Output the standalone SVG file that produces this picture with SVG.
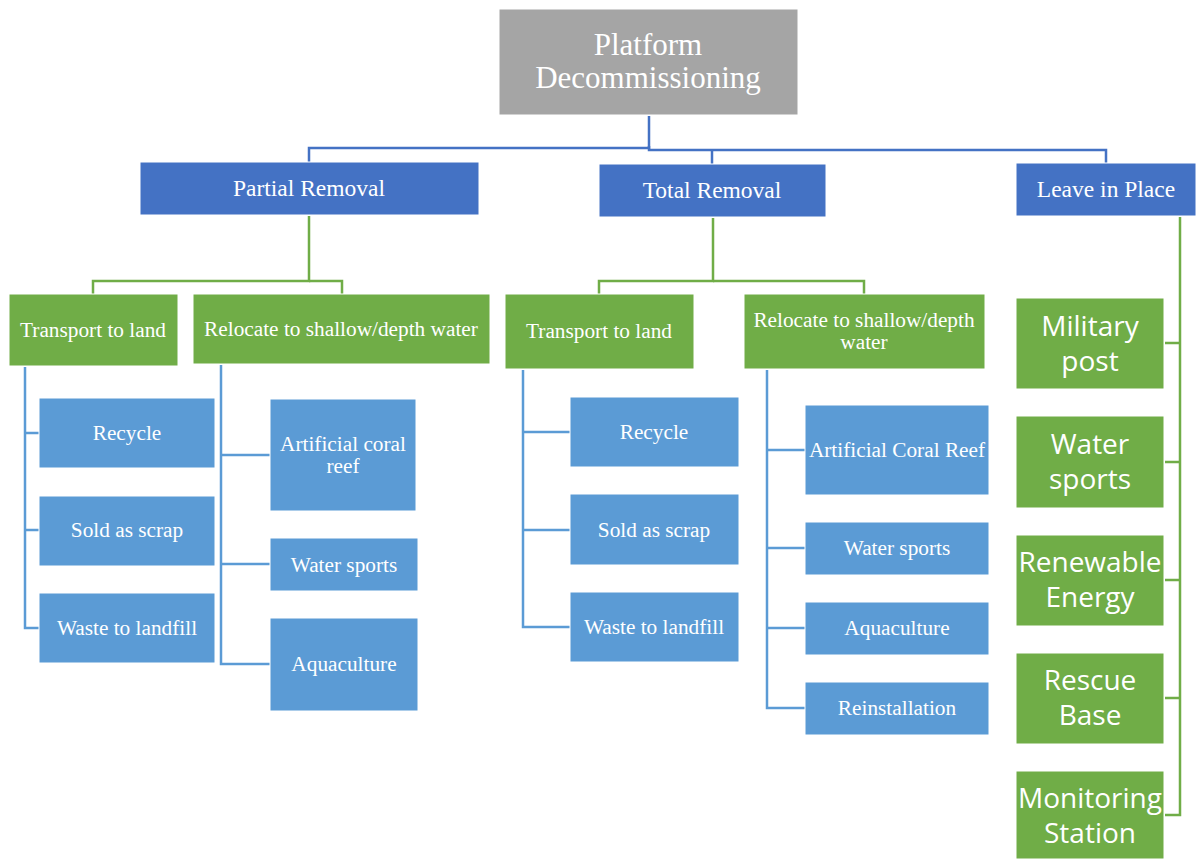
<svg xmlns="http://www.w3.org/2000/svg" width="1201" height="859" viewBox="0 0 1201 859">
  <style>
    .root { fill: #A5A5A5; stroke: #ffffff; stroke-width: 1; }
    .main { fill: #4472C4; stroke: #ffffff; stroke-width: 1; }
    .grn { fill: #70AD47; stroke: #ffffff; stroke-width: 1; }
    .leaf { fill: #5B9BD5; stroke: #ffffff; stroke-width: 1; }
    text { fill: #ffffff; text-anchor: middle; font-family: "Liberation Serif", "Times New Roman", serif; }
    .t-root { font-size: 31px; }
    .t-main { font-size: 23.5px; }
    .t-leaf { font-size: 21.3px; }
    .t-side { font-size: 28px; font-family: "Open Sans", "Noto Sans", sans-serif; }
    .c-blue { fill: none; stroke: #4472C4; stroke-width: 2.5; }
    .c-lblue { fill: none; stroke: #5B9BD5; stroke-width: 2.5; }
    .c-green { fill: none; stroke: #70AD47; stroke-width: 2.5; }
  </style>

  <!-- connectors -->
  <g id="connectors">
    <!-- root to the three strategies -->
    <path class="c-blue" d="M649 116 V148 H309 V162"/>
    <path class="c-blue" d="M649 146 V150 H1106 V163"/>
    <path class="c-blue" d="M712 150 V164"/>
    <!-- partial removal to options -->
    <path class="c-green" d="M309 216 V281 H93 V294"/>
    <path class="c-green" d="M309 281 H342 V294"/>
    <!-- total removal to options -->
    <path class="c-green" d="M713 218 V281 H599 V294"/>
    <path class="c-green" d="M713 281 H864 V294"/>
    <!-- partial: transport to land -->
    <path class="c-lblue" d="M25 367 V628 H39"/>
    <path class="c-lblue" d="M25 433 H39 M25 530 H39"/>
    <!-- partial: relocate -->
    <path class="c-lblue" d="M221 365 V664 H270"/>
    <path class="c-lblue" d="M221 455 H270 M221 564 H270"/>
    <!-- total: transport to land -->
    <path class="c-lblue" d="M523 370 V627 H570"/>
    <path class="c-lblue" d="M523 432 H570 M523 530 H570"/>
    <!-- total: relocate -->
    <path class="c-lblue" d="M767 370 V708 H805"/>
    <path class="c-lblue" d="M767 450 H805 M767 548 H805 M767 628 H805"/>
    <!-- leave in place -->
    <path class="c-green" d="M1180 217 V815 H1165"/>
    <path class="c-green" d="M1165 343 H1180 M1165 462 H1180 M1165 580 H1180 M1165 698 H1180"/>
  </g>

  <g id="root">
    <rect class="root" x="499" y="9" width="299" height="106"/>
    <text class="t-root" x="648" y="55">Platform</text>
    <text class="t-root" x="648" y="88">Decommissioning</text>
  </g>

  <g id="partial-removal">
    <rect class="main" x="140" y="162" width="339" height="53"/>
    <text class="t-main" x="309" y="196">Partial Removal</text>
  </g>
  <g id="total-removal">
    <rect class="main" x="599" y="164" width="227" height="53"/>
    <text class="t-main" x="712" y="198">Total Removal</text>
  </g>
  <g id="leave-in-place">
    <rect class="main" x="1016" y="163" width="180" height="53"/>
    <text class="t-main" x="1106" y="197">Leave in Place</text>
  </g>

  <g id="p-transport">
    <rect class="grn" x="9" y="294" width="169" height="72"/>
    <text class="t-leaf" x="93" y="337">Transport to land</text>
  </g>
  <g id="p-relocate">
    <rect class="grn" x="193" y="294" width="297" height="70"/>
    <text class="t-leaf" x="341" y="336">Relocate to shallow/depth water</text>
  </g>
  <g id="t-transport">
    <rect class="grn" x="505" y="294" width="189" height="75"/>
    <text class="t-leaf" x="599" y="338">Transport to land</text>
  </g>
  <g id="t-relocate">
    <rect class="grn" x="744" y="294" width="241" height="75"/>
    <text class="t-leaf" x="864" y="327">Relocate to shallow/depth</text>
    <text class="t-leaf" x="864" y="349">water</text>
  </g>

  <g id="p-recycle">
    <rect class="leaf" x="39" y="398" width="176" height="70"/>
    <text class="t-leaf" x="127" y="440">Recycle</text>
  </g>
  <g id="p-scrap">
    <rect class="leaf" x="39" y="496" width="176" height="70"/>
    <text class="t-leaf" x="127" y="537">Sold as scrap</text>
  </g>
  <g id="p-landfill">
    <rect class="leaf" x="39" y="593" width="176" height="70"/>
    <text class="t-leaf" x="127" y="635">Waste to landfill</text>
  </g>

  <g id="p-coral">
    <rect class="leaf" x="270" y="399" width="146" height="112"/>
    <text class="t-leaf" x="343" y="451">Artificial coral</text>
    <text class="t-leaf" x="343" y="473">reef</text>
  </g>
  <g id="p-sports">
    <rect class="leaf" x="270" y="538" width="148" height="53"/>
    <text class="t-leaf" x="344" y="572">Water sports</text>
  </g>
  <g id="p-aqua">
    <rect class="leaf" x="270" y="618" width="148" height="93"/>
    <text class="t-leaf" x="344" y="671">Aquaculture</text>
  </g>

  <g id="t-recycle">
    <rect class="leaf" x="570" y="397" width="169" height="70"/>
    <text class="t-leaf" x="654" y="439">Recycle</text>
  </g>
  <g id="t-scrap">
    <rect class="leaf" x="570" y="494" width="169" height="71"/>
    <text class="t-leaf" x="654" y="537">Sold as scrap</text>
  </g>
  <g id="t-landfill">
    <rect class="leaf" x="570" y="592" width="169" height="70"/>
    <text class="t-leaf" x="654" y="634">Waste to landfill</text>
  </g>

  <g id="t-coral">
    <rect class="leaf" x="805" y="405" width="184" height="90"/>
    <text class="t-leaf" x="897" y="457">Artificial Coral Reef</text>
  </g>
  <g id="t-sports">
    <rect class="leaf" x="805" y="522" width="184" height="53"/>
    <text class="t-leaf" x="897" y="555">Water sports</text>
  </g>
  <g id="t-aqua">
    <rect class="leaf" x="805" y="602" width="184" height="53"/>
    <text class="t-leaf" x="897" y="635">Aquaculture</text>
  </g>
  <g id="t-reinstall">
    <rect class="leaf" x="805" y="682" width="184" height="53"/>
    <text class="t-leaf" x="897" y="715">Reinstallation</text>
  </g>

  <g id="military">
    <rect class="grn" x="1016" y="298" width="148" height="91"/>
    <text class="t-side" x="1090" y="336">Military</text>
    <text class="t-side" x="1090" y="371">post</text>
  </g>
  <g id="water-sports">
    <rect class="grn" x="1016" y="416" width="148" height="92"/>
    <text class="t-side" x="1090" y="454">Water</text>
    <text class="t-side" x="1090" y="489">sports</text>
  </g>
  <g id="renewable">
    <rect class="grn" x="1016" y="535" width="148" height="91"/>
    <text class="t-side" x="1090" y="572">Renewable</text>
    <text class="t-side" x="1090" y="607">Energy</text>
  </g>
  <g id="rescue">
    <rect class="grn" x="1016" y="653" width="148" height="91"/>
    <text class="t-side" x="1090" y="690">Rescue</text>
    <text class="t-side" x="1090" y="725">Base</text>
  </g>
  <g id="monitoring">
    <rect class="grn" x="1016" y="771" width="148" height="88"/>
    <text class="t-side" x="1090" y="808">Monitoring</text>
    <text class="t-side" x="1090" y="843">Station</text>
  </g>
</svg>
